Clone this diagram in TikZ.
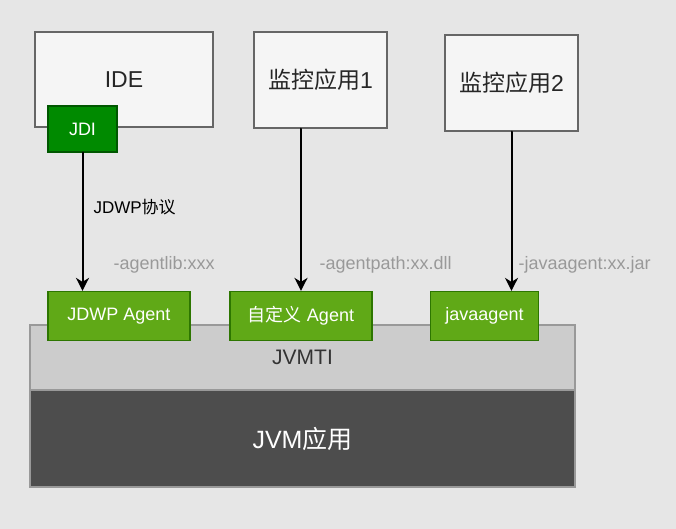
\documentclass[tikz,border=0pt]{standalone}
\usepackage{fontspec}
\setmainfont{Liberation Sans}
\newfontfamily\cjk{Noto Sans CJK SC}
\usetikzlibrary{arrows.meta}
\definecolor{bgcol}{HTML}{E6E6E6}
\definecolor{appfill}{HTML}{F5F5F5}
\definecolor{appline}{HTML}{666666}
\definecolor{jdifill}{HTML}{008A00}
\definecolor{jdiline}{HTML}{005700}
\definecolor{agentfill}{HTML}{60A917}
\definecolor{agentline}{HTML}{2D7600}
\definecolor{tifill}{HTML}{CCCCCC}
\definecolor{tiline}{HTML}{999999}
\definecolor{vmfill}{HTML}{4D4D4D}
\tikzset{
  appbox/.style={draw=appline, fill=appfill, line width=1.5pt, text=black!85,
    font=\fontsize{23}{27}\selectfont},
  agentbox/.style={draw=agentline, fill=agentfill, line width=1.2pt, text=white,
    minimum height=49pt, font=\fontsize{18}{21}\selectfont},
  optlabel/.style={anchor=west, text=tiline, font=\fontsize{18}{21}\selectfont},
}

\begin{document}
\begin{tikzpicture}[x=1pt,y=-1pt,cap=round,>={Stealth[length=13pt,width=13pt,inset=4pt]}]
    % background
    \fill[bgcol] (0,0) rectangle (676,529);

    % the jvm layers
    \node[draw=tiline, fill=tifill, line width=1.2pt, minimum width=545pt, minimum height=65pt,
      text=black!80, font=\fontsize{21}{25}\selectfont] (jvmti) at (302.5,357.5) {\raisebox{-2pt}{JVMTI}};
    \node[draw=tiline, fill=vmfill, line width=1.2pt, minimum width=545pt, minimum height=97pt,
      text=white, font=\fontsize{25}{29}\selectfont] (jvm) at (302.5,438.5) {JVM{\cjk 应用}};

    % the agents
    \node[agentbox, minimum width=142pt] (jdwp) at (119,316) {JDWP Agent};
    \node[agentbox, minimum width=142pt] (custom) at (301,316) {{\cjk 自定义} Agent};
    \node[agentbox, minimum width=108pt] (jagent) at (484.5,316) {javaagent};

    % the tools on top
    \node[appbox, minimum width=178pt, minimum height=95pt] (ide) at (124,79.5) {IDE};
    \node[draw=jdiline, fill=jdifill, line width=1.2pt, minimum width=69pt, minimum height=46pt,
      text=white, font=\fontsize{18}{21}\selectfont] (jdi) at (82.5,129) {JDI};
    \node[appbox, minimum width=133pt, minimum height=96pt] (mon1) at (320.5,80) {{\cjk 监控应用}1};
    \node[appbox, minimum width=133pt, minimum height=96pt] (mon2) at (511.5,83) {{\cjk 监控应用}2};

    % connectors
    \draw[->, line width=2pt] (jdi.south) -- (jdi.south |- jdwp.north);
    \draw[->, line width=2pt] (custom.north |- mon1.south) -- (custom.north);
    \draw[->, line width=2pt] (mon2.south) -- (mon2.south |- jagent.north);

    % text at the arrows
    \node[anchor=west, font=\fontsize{17}{20}\selectfont] (proto) at (90,207) {JDWP{\cjk 协议}};
    \node[optlabel] (optlib) at (110,265) {-agentlib:xxx};
    \node[optlabel] (optpath) at (316,265) {-agentpath:xx.dll};
    \node[optlabel] (optjava) at (515,265) {-javaagent:xx.jar};

\end{tikzpicture}
\end{document}
